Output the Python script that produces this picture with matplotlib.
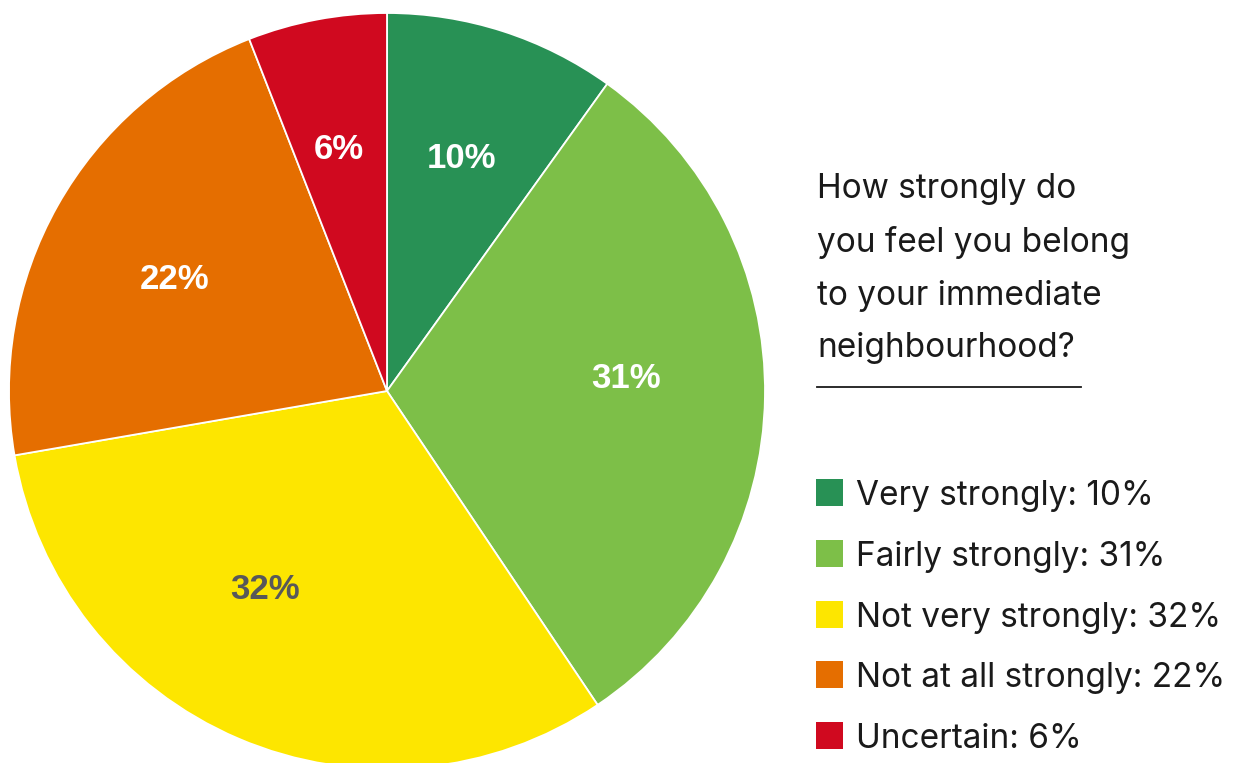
import matplotlib
matplotlib.use("Agg")
import matplotlib.pyplot as plt
from matplotlib.patches import Rectangle

# ── Survey data ──────────────────────────────────────────────────────────────
CATEGORIES = ["Very strongly", "Fairly strongly", "Not very strongly",
              "Not at all strongly", "Uncertain"]
SHARES     = [10, 31, 32, 22, 6]
COLORS     = ["#289155", "#7DBF48", "#FDE600", "#E56E00", "#D0091F"]
PCT_COLORS = ["white", "white", "#58585A", "white", "white"]
QUESTION   = "How strongly do\nyou feel you belong\nto your immediate\nneighbourhood?"

# hand-placed label positions inside the slices (pie units, radius = 1)
LABEL_POS = [(0.198, 0.616), (0.632, 0.034), (-0.323, -0.526),
             (-0.563, 0.294), (-0.127, 0.638)]

W, H = 1241, 763
TEXT_COLOR = "#1A1A1A"


def fx(px):
    return px / W


def fy(py):
    return 1 - py / H


fig = plt.figure(figsize=(W / 100, H / 100), dpi=100)

# pie axes: centre (387, 391), radius 378 px
cx, cy, r = 387, 391, 378
ax = fig.add_axes([fx(cx - r), fy(cy + r), 2 * r / W, 2 * r / H])
wedges, texts = ax.pie(
    SHARES,
    colors=COLORS,
    startangle=90,
    counterclock=False,
    labels=[f"{v}%" for v in SHARES],
    labeldistance=0.64,
    wedgeprops=dict(edgecolor="white", linewidth=1.3),
    textprops=dict(fontsize=25, fontweight="bold", family="Liberation Sans"),
)
for t, c, pos in zip(texts, PCT_COLORS, LABEL_POS):
    t.set_position(pos)
    t.set_ha("center")
    t.set_va("center")
    t.set_color(c)
ax.set_xlim(-1, 1)
ax.set_ylim(-1, 1)
ax.set_aspect("equal")
ax.axis("off")

# question text (anchored on the last line's baseline) and rule
fig.text(fx(817), fy(357), QUESTION, ha="left", va="baseline",
         fontsize=24, family="Inter", color=TEXT_COLOR, linespacing=1.82)
fig.add_artist(plt.Line2D([fx(817), fx(1081)], [fy(387), fy(387)],
                          color=TEXT_COLOR, linewidth=1.3))

# legend rows
row0, step, box = 479, 60.8, 27
for i, (cat, val, col) in enumerate(zip(CATEGORIES, SHARES, COLORS)):
    top = row0 + i * step
    fig.add_artist(Rectangle((fx(816), fy(top + box)), box / W, box / H,
                             facecolor=col, edgecolor="none"))
    fig.text(fx(856), fy(top + box - 1), f"{cat}: {val}%", ha="left",
             va="baseline", fontsize=24, family="Inter", color=TEXT_COLOR)

fig.savefig("out.png", dpi=100)
